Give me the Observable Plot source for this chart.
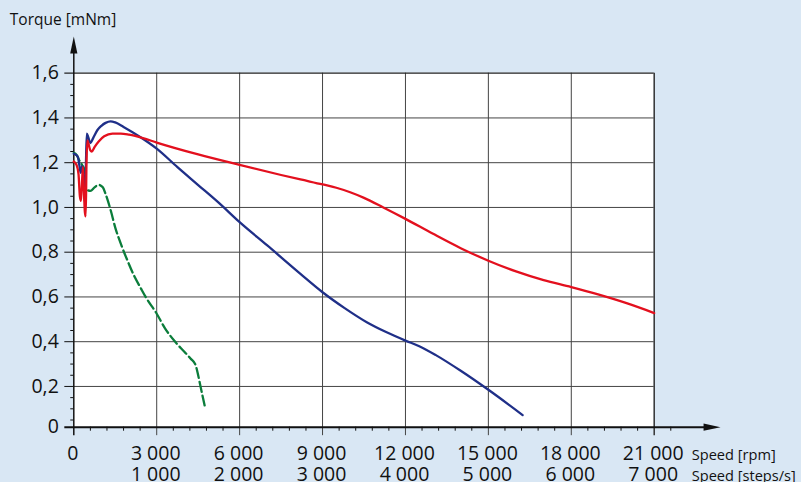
<!DOCTYPE html>
<html><head><meta charset="utf-8">
<script src="https://cdn.jsdelivr.net/npm/d3@7"></script>
<script src="https://cdn.jsdelivr.net/npm/@observablehq/plot@0.6"></script>
<style>
html,body{margin:0;padding:0;background:#d9e7f4;}
#chart svg{display:block;}
</style></head><body><div id="chart"></div>
<script>
// ---- tick values and labels ----
const rpmTicks = [0, 3000, 6000, 9000, 12000, 15000, 18000, 21000];
const rpmLabels = ["0", "3 000", "6 000", "9 000", "12 000", "15 000", "18 000", "21 000"];
const stepLabels = ["", "1 000", "2 000", "3 000", "4 000", "5 000", "6 000", "7 000"];
const torqueTicks = [0, 0.2, 0.4, 0.6, 0.8, 1.0, 1.2, 1.4, 1.6];
const torqueLabels = ["0", "0,2", "0,4", "0,6", "0,8", "1,0", "1,2", "1,4", "1,6"];
const xTitle1 = "Speed [rpm]";
const xTitle2 = "Speed [steps/s]";
const yTitle = "Torque [mNm]";

// ---- series (speed rpm, torque mNm) ----
const blueSpeed  = [0, 80, 150, 200, 250, 300, 340, 380, 410, 440, 470, 520, 600, 700, 850, 1000, 1150, 1330, 1500, 1800, 2400, 3000, 3750, 4500, 5250, 6000, 7000, 8200, 9000, 9800, 10600, 11300, 12000, 12500, 13100, 14000, 15000, 16240];
const blueTorque = [1.24, 1.235, 1.225, 1.19, 1.155, 1.185, 1.16, 1.05, 1.02, 1.2, 1.33, 1.315, 1.288, 1.31, 1.345, 1.365, 1.378, 1.385, 1.38, 1.36, 1.315, 1.263, 1.18, 1.10, 1.02, 0.934, 0.83, 0.703, 0.621, 0.55, 0.487, 0.443, 0.405, 0.38, 0.34, 0.27, 0.185, 0.072];

const redSpeed  = [0, 100, 170, 220, 260, 300, 330, 360, 400, 430, 460, 490, 530, 600, 650, 750, 900, 1100, 1400, 1700, 2000, 2500, 3000, 4500, 6000, 7500, 8200, 9000, 9500, 10000, 10500, 11200, 12000, 13000, 14000, 15000, 16000, 17000, 18000, 19000, 20000, 21000];
const redTorque = [1.205, 1.19, 1.15, 1.05, 1.03, 1.12, 1.18, 1.1, 0.98, 0.96, 1.2, 1.30, 1.285, 1.255, 1.25, 1.27, 1.295, 1.318, 1.33, 1.33, 1.325, 1.31, 1.29, 1.237, 1.19, 1.145, 1.125, 1.103, 1.088, 1.068, 1.043, 1.0, 0.949, 0.882, 0.818, 0.762, 0.714, 0.675, 0.644, 0.61, 0.572, 0.528];

const greenSpeed  = [0, 100, 200, 300, 380, 420, 460, 600, 750, 900, 1050, 1150, 1340, 1500, 1700, 1940, 2200, 2420, 2600, 3000, 3300, 3630, 4000, 4230, 4410, 4500, 4590, 4735];
const greenTorque = [1.244, 1.235, 1.21, 1.19, 1.17, 1.1, 1.08, 1.074, 1.09, 1.101, 1.09, 1.06, 0.985, 0.91, 0.838, 0.763, 0.69, 0.64, 0.6, 0.525, 0.46, 0.405, 0.355, 0.324, 0.294, 0.25, 0.197, 0.115];

const toRows = (s, t) => s.map((v, i) => ({speed: v, torque: t[i]}));
const blue = toRows(blueSpeed, blueTorque);
const red = toRows(redSpeed, redTorque);
const green = toRows(greenSpeed, greenTorque);

// axis decoration helpers
const xMinor = d3.range(600, 21601, 600).filter(v => v % 3000 !== 0);
const yMinor = d3.range(1, 32).map(i => +(i * 0.05).toFixed(2)).filter((v, i) => (i + 1) % 4 !== 0);
const xGrid = rpmTicks.filter(v => v > 0 && v < 21000);
const yGrid = torqueTicks.filter(v => v > 0 && v < 1.6);
const xLab = rpmTicks.map((v, i) => ({v, a: rpmLabels[i], b: stepLabels[i]}));
const yLab = torqueTicks.map((v, i) => ({v, t: torqueLabels[i]}));
const yLabUpper = yLab.filter(d => d.v > 0);
const yLabZero = yLab.filter(d => d.v === 0);

const arrowUp = {draw(ctx) { ctx.moveTo(0, 0); ctx.lineTo(3.6, 17); ctx.lineTo(-3.6, 17); ctx.closePath(); }};
const arrowRight = {draw(ctx) { ctx.moveTo(0, 0); ctx.lineTo(-17, -3.6); ctx.lineTo(-17, 3.6); ctx.closePath(); }};

const ink = "#111";
const gridC = "#444";
const font = "'Open Sans', 'Noto Sans', sans-serif";
const fs = 19.5;
const tfs = 14.6;

const chart = Plot.plot({
  width: 801,
  height: 482,
  marginLeft: 73.3,
  marginRight: 147.3,
  marginTop: 72.7,
  marginBottom: 51.3,
  x: {domain: [0, 21000], axis: null},
  y: {domain: [0, 1.6], axis: null},
  style: {background: "#d9e7f4", fontFamily: font, color: ink},
  marks: [
    Plot.rect([0], {x1: 0, x2: 21000, y1: 0, y2: 1.6, fill: "white", insetBottom: 4}),
    Plot.ruleY(yGrid, {x1: 0, x2: 21000, stroke: gridC, strokeWidth: 1}),
    Plot.ruleX(xGrid, {y1: -0.02, y2: 1.6, stroke: gridC, strokeWidth: 1}),
    // frame top and right
    Plot.ruleY([1.6], {x1: -325, x2: 21000, stroke: "#222", strokeWidth: 1.3}),
    Plot.ruleX([21000], {y1: -0.02, y2: 1.6, stroke: "#333", strokeWidth: 1.5}),
    // y ticks
    Plot.ruleY(yGrid, {x1: -325, x2: 0, stroke: ink, strokeWidth: 1}),
    Plot.ruleY(yMinor, {x1: -110, x2: 0, stroke: ink, strokeWidth: 1}),
    // x minor ticks
    Plot.ruleX(xMinor, {y1: 0, y2: 0.018, stroke: ink, strokeWidth: 1}),
    // axes
    Plot.ruleY([0], {x1: -325, x2: 22900, dy: -4, stroke: ink, strokeWidth: 2}),
    Plot.ruleX([0], {y1: -0.02, y2: 1.70, stroke: ink, strokeWidth: 1.5}),
    Plot.dot([0], {x: 0, y: 1.764, r: 5, symbol: arrowUp, fill: ink, stroke: null}),
    Plot.dot([0], {x: 23400, y: 0, dy: -4, r: 5, symbol: arrowRight, fill: ink, stroke: null}),
    // series
    Plot.line(green, {x: "speed", y: "torque", stroke: "#0b7d3b", strokeWidth: 2.3, strokeDasharray: "10,4", curve: "monotone-x"}),
    Plot.line(blue, {x: "speed", y: "torque", stroke: "#1f2f88", strokeWidth: 2.3, curve: "monotone-x"}),
    Plot.line(red, {x: "speed", y: "torque", stroke: "#e3101e", strokeWidth: 2.3, curve: "monotone-x"}),
    // y labels
    Plot.text(yLabUpper, {x: 0, y: "v", text: "t", textAnchor: "end", dx: -15, fontSize: fs, fill: ink}),
    Plot.text(yLabZero, {x: 0, y: "v", text: "t", textAnchor: "end", dx: -15, dy: -4, fontSize: fs, fill: ink}),
    // x labels
    Plot.text(xLab, {x: "v", y: 0, text: "a", lineAnchor: "bottom", dy: 29, dx: -1, fontSize: fs, fill: ink}),
    Plot.text(xLab, {x: "v", y: 0, text: "b", lineAnchor: "bottom", dy: 49.5, dx: -1, fontSize: fs, fill: ink}),
    // titles
    Plot.text([xTitle1], {frameAnchor: "bottom-right", text: d => d, textAnchor: "start", lineAnchor: "bottom", dx: 37.5, dy: 29, fontSize: tfs, fill: ink}),
    Plot.text([xTitle2], {frameAnchor: "bottom-right", text: d => d, textAnchor: "start", lineAnchor: "bottom", dx: 37.5, dy: 49.5, fontSize: tfs, fill: ink}),
    Plot.text([yTitle], {frameAnchor: "top-left", text: d => d, textAnchor: "start", lineAnchor: "bottom", dx: -64, dy: -47.7, fontSize: 15.5, fill: ink})
  ]
});
document.getElementById("chart").appendChild(chart);
</script></body></html>
